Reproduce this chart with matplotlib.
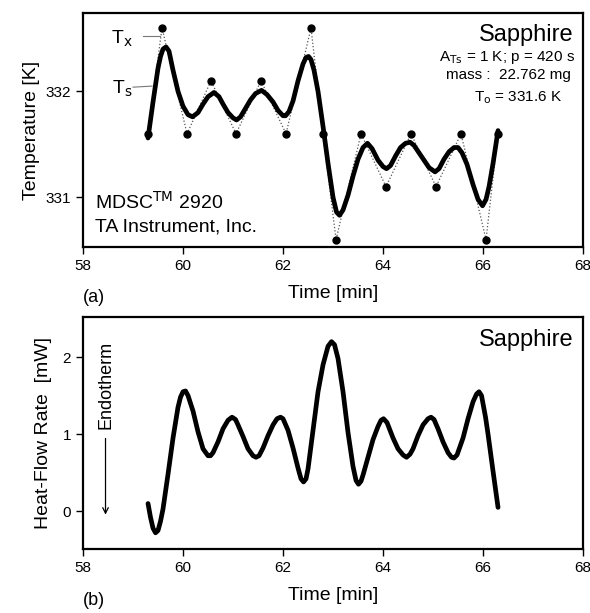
import numpy as np
import matplotlib.pyplot as plt

plt.rcParams['font.family'] = ['Liberation Sans', 'DejaVu Sans']

# sample temperature Ts [K]
ts_time = [59.3, 59.4, 59.5, 59.55, 59.6, 59.66, 59.72, 59.8, 59.9, 60.0,
           60.1, 60.19, 60.3, 60.4, 60.5, 60.62, 60.72, 60.8, 60.9, 61.0,
           61.07, 61.15, 61.25, 61.35, 61.45, 61.57, 61.68, 61.8, 61.9, 62.0,
           62.05, 62.12, 62.2, 62.3, 62.4, 62.46, 62.51, 62.56, 62.62, 62.7,
           62.8, 62.9, 63.0, 63.07, 63.13, 63.2, 63.3, 63.4, 63.5, 63.6,
           63.69, 63.78, 63.9, 64.0, 64.07, 64.15, 64.25, 64.35, 64.45, 64.54,
           64.62, 64.72, 64.82, 64.92, 65.04, 65.12, 65.22, 65.32, 65.42, 65.5,
           65.58, 65.68, 65.8, 65.9, 65.99, 66.06, 66.12, 66.2, 66.3]
ts = [331.56, 331.90, 332.22, 332.33, 332.40, 332.42, 332.38, 332.20, 332.00, 331.86,
      331.78, 331.76, 331.80, 331.88, 331.95, 331.99, 331.95, 331.88, 331.80, 331.75,
      331.73, 331.76, 331.84, 331.92, 331.98, 332.01, 331.97, 331.90, 331.82, 331.77,
      331.77, 331.81, 331.91, 332.10, 332.26, 332.32, 332.33, 332.30, 332.20, 332.00,
      331.67, 331.32, 331.00, 330.86, 330.83, 330.88, 331.02, 331.20, 331.36, 331.47,
      331.51, 331.46, 331.35, 331.29, 331.27, 331.30, 331.39, 331.47, 331.51, 331.52,
      331.49, 331.42, 331.35, 331.28, 331.24, 331.27, 331.36, 331.43, 331.47, 331.47,
      331.42, 331.31, 331.12, 330.98, 330.92, 330.98, 331.10, 331.32, 331.63]

# programmed temperature Tx (sawtooth corners)
tx_time = [59.3, 59.58, 60.08, 60.56, 61.06, 61.56, 62.06, 62.56, 62.8,
           63.06, 63.56, 64.06, 64.56, 65.06, 65.56, 66.06, 66.3]
tx = [331.6, 332.6, 331.6, 332.1, 331.6, 332.1, 331.6, 332.6, 331.6,
      330.6, 331.6, 331.1, 331.6, 331.1, 331.6, 330.6, 331.6]

# heat-flow rate [mW]
hf_time = [59.3, 59.35, 59.4, 59.45, 59.5, 59.55, 59.6, 59.7, 59.8, 59.9,
           59.95, 60.0, 60.05, 60.1, 60.2, 60.3, 60.4, 60.5, 60.55, 60.6,
           60.7, 60.8, 60.9, 60.98, 61.05, 61.1, 61.2, 61.3, 61.4, 61.46,
           61.52, 61.6, 61.7, 61.8, 61.88, 61.95, 62.0, 62.1, 62.2, 62.3,
           62.36, 62.41, 62.46, 62.5, 62.6, 62.7, 62.8, 62.9, 62.97, 63.03,
           63.1, 63.2, 63.3, 63.4, 63.46, 63.51, 63.56, 63.6, 63.7, 63.8,
           63.9, 63.96, 64.01, 64.08, 64.2, 64.3, 64.4, 64.47, 64.54, 64.6,
           64.7, 64.8, 64.9, 64.96, 65.02, 65.1, 65.2, 65.3, 65.37, 65.42,
           65.48, 65.6, 65.7, 65.8, 65.87, 65.92, 65.97, 66.05, 66.1, 66.2,
           66.3]
hf = [0.10, -0.08, -0.22, -0.28, -0.25, -0.13, 0.03, 0.48, 0.95, 1.35,
      1.48, 1.55, 1.56, 1.50, 1.30, 1.03, 0.81, 0.72, 0.72, 0.76,
      0.90, 1.07, 1.18, 1.22, 1.19, 1.12, 0.97, 0.81, 0.72, 0.70,
      0.72, 0.82, 0.98, 1.12, 1.20, 1.22, 1.20, 1.05, 0.82, 0.56,
      0.42, 0.38, 0.42, 0.55, 1.05, 1.55, 1.90, 2.14, 2.20, 2.16,
      1.98, 1.55, 1.02, 0.58, 0.40, 0.35, 0.39, 0.47, 0.70, 0.93,
      1.10, 1.18, 1.20, 1.15, 0.95, 0.81, 0.73, 0.70, 0.74, 0.81,
      0.98, 1.12, 1.20, 1.22, 1.19, 1.07, 0.90, 0.76, 0.70, 0.69,
      0.73, 0.95, 1.20, 1.42, 1.52, 1.55, 1.50, 1.22, 1.00, 0.52,
      0.05]

fig = plt.figure(figsize=(5.9, 6.13), dpi=100)
ax1 = fig.add_axes([0.1407, 0.597, 0.8475, 0.3817])
ax2 = fig.add_axes([0.1407, 0.1044, 0.8475, 0.3785])

for ax in (ax1, ax2):
    for s in ax.spines.values():
        s.set_linewidth(1.6)
    ax.tick_params(direction='out', length=5, width=1, labelsize=11)
    ax.set_xlim(58, 68)
    ax.set_xticks([58, 60, 62, 64, 66, 68])
    ax.set_xlabel('Time [min]', fontsize=14, labelpad=9)

# (a) temperature
ax1.plot(tx_time, tx, ':', color='#555555', lw=0.9)
ax1.plot(tx_time, tx, 'o', color='black', ms=5)
ax1.plot(ts_time, ts, '-', color='black', lw=3.4,
         solid_capstyle='round', solid_joinstyle='round')
ax1.set_ylim(330.53, 332.74)
ax1.set_yticks([331, 332])
ax1.set_ylabel('Temperature [K]', fontsize=14, labelpad=4)

ax1.text(0.98, 0.905, 'Sapphire', transform=ax1.transAxes, ha='right', va='center', fontsize=17)
ax1.text(0.985, 0.812, r'A$_{\rm Ts}$ = 1 K; p = 420 s', transform=ax1.transAxes,
         ha='right', va='center', fontsize=11)
ax1.text(0.975, 0.735, 'mass :  22.762 mg', transform=ax1.transAxes,
         ha='right', va='center', fontsize=11)
ax1.text(0.958, 0.637, r'T$_{\rm o}$ = 331.6 K', transform=ax1.transAxes,
         ha='right', va='center', fontsize=11)
ax1.text(0.024, 0.192, r'MDSC$^{\rm TM}$ 2920', transform=ax1.transAxes, va='center', fontsize=14)
ax1.text(0.024, 0.085, 'TA Instrument, Inc.', transform=ax1.transAxes, va='center', fontsize=14)

ax1.text(59.0, 332.5, r'T$_{\rm x}$', ha='right', va='center', fontsize=14)
ax1.plot([59.2, 59.54], [332.52, 332.52], color='#777777', lw=0.8)
ax1.text(59.0, 332.02, r'T$_{\rm s}$', ha='right', va='center', fontsize=14)
ax1.plot([59.0, 59.38], [332.04, 332.05], color='#777777', lw=0.8)

fig.text(0.141, 0.515, '(a)', fontsize=13, va='center')

# (b) heat-flow rate
ax2.plot(hf_time, hf, '-', color='black', lw=3.4,
         solid_capstyle='round', solid_joinstyle='round')
ax2.set_ylim(-0.49, 2.52)
ax2.set_yticks([0, 1, 2])
ax2.set_ylabel('Heat-Flow Rate  [mW]', fontsize=14, labelpad=8)
ax2.text(0.98, 0.9, 'Sapphire', transform=ax2.transAxes, ha='right', va='center', fontsize=17)
ax2.text(58.45, 1.07, 'Endotherm', rotation=90, ha='center', va='bottom', fontsize=13)
ax2.annotate('', xy=(58.45, -0.08), xytext=(58.45, 0.98),
             arrowprops=dict(arrowstyle='->', color='black', lw=0.9))

fig.text(0.141, 0.021, '(b)', fontsize=13, va='center')

plt.savefig('out.png', dpi=100)
